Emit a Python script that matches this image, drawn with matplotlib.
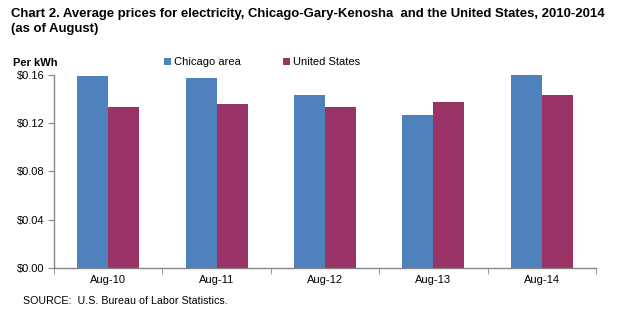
import matplotlib
matplotlib.use("Agg")
import matplotlib.pyplot as plt
import numpy as np

plt.rcParams['font.family'] = ['Liberation Sans', 'DejaVu Sans']

categories = ["Aug-10", "Aug-11", "Aug-12", "Aug-13", "Aug-14"]
chicago = [0.159, 0.157, 0.143, 0.127, 0.160]
united_states = [0.133, 0.136, 0.133, 0.137, 0.143]
y_ticks = [0.00, 0.04, 0.08, 0.12, 0.16]
y_tick_labels = ["$0.00", "$0.04", "$0.08", "$0.12", "$0.16"]

blue = "#4F81BD"
plum = "#993366"
axis_gray = "#868686"

fig = plt.figure(figsize=(6.23, 3.22), dpi=100)
ax = fig.add_axes([54 / 623, 1 - 268 / 322, (596 - 54) / 623, (268 - 74.7) / 322])

x = np.arange(len(categories))
w = 0.286
ax.bar(x - w / 2, chicago, width=w, color=blue, label="Chicago area", clip_on=False)
ax.bar(x + w / 2, united_states, width=w, color=plum, label="United States", clip_on=False)

ax.set_xlim(-0.5, len(categories) - 0.5)
ax.set_ylim(0, 0.16)
ax.set_yticks(y_ticks)
ax.set_yticklabels(y_tick_labels, fontsize=8)
ax.set_xticks(x)
ax.set_xticklabels(categories, fontsize=8)
ax.set_xticks(np.arange(len(categories) + 1) - 0.5, minor=True)
ax.tick_params(axis='x', which='major', length=0, pad=5)
ax.tick_params(axis='x', which='minor', length=4, color=axis_gray, direction='out')
ax.tick_params(axis='y', length=4, color=axis_gray, direction='out', pad=3)

for side in ('top', 'right'):
    ax.spines[side].set_visible(False)
for side in ('left', 'bottom'):
    ax.spines[side].set_color(axis_gray)
    ax.spines[side].set_linewidth(1.0)

fig.text(11 / 623, 1 - 21.5 / 322,
         "Chart 2. Average prices for electricity, Chicago-Gary-Kenosha  and the United States, 2010-2014\n(as of August)",
         fontsize=9.45, fontweight='bold', va='center', ha='left', linespacing=1.28)
fig.text(13 / 623, 1 - 63 / 322, "Per kWh", fontsize=8, fontweight='bold', va='center', ha='left')

leg = ax.legend(loc='center', bbox_to_anchor=(262 / 623, 1 - 62 / 322), bbox_transform=fig.transFigure,
                ncol=2, frameon=False, fontsize=8, handlelength=0.6, handleheight=0.6,
                handletextpad=0.3, columnspacing=3.8)

fig.text(23 / 623, 1 - 301 / 322, "SOURCE:  U.S. Bureau of Labor Statistics.", fontsize=7.7, va='center', ha='left')

fig.savefig("out.png", dpi=100)
